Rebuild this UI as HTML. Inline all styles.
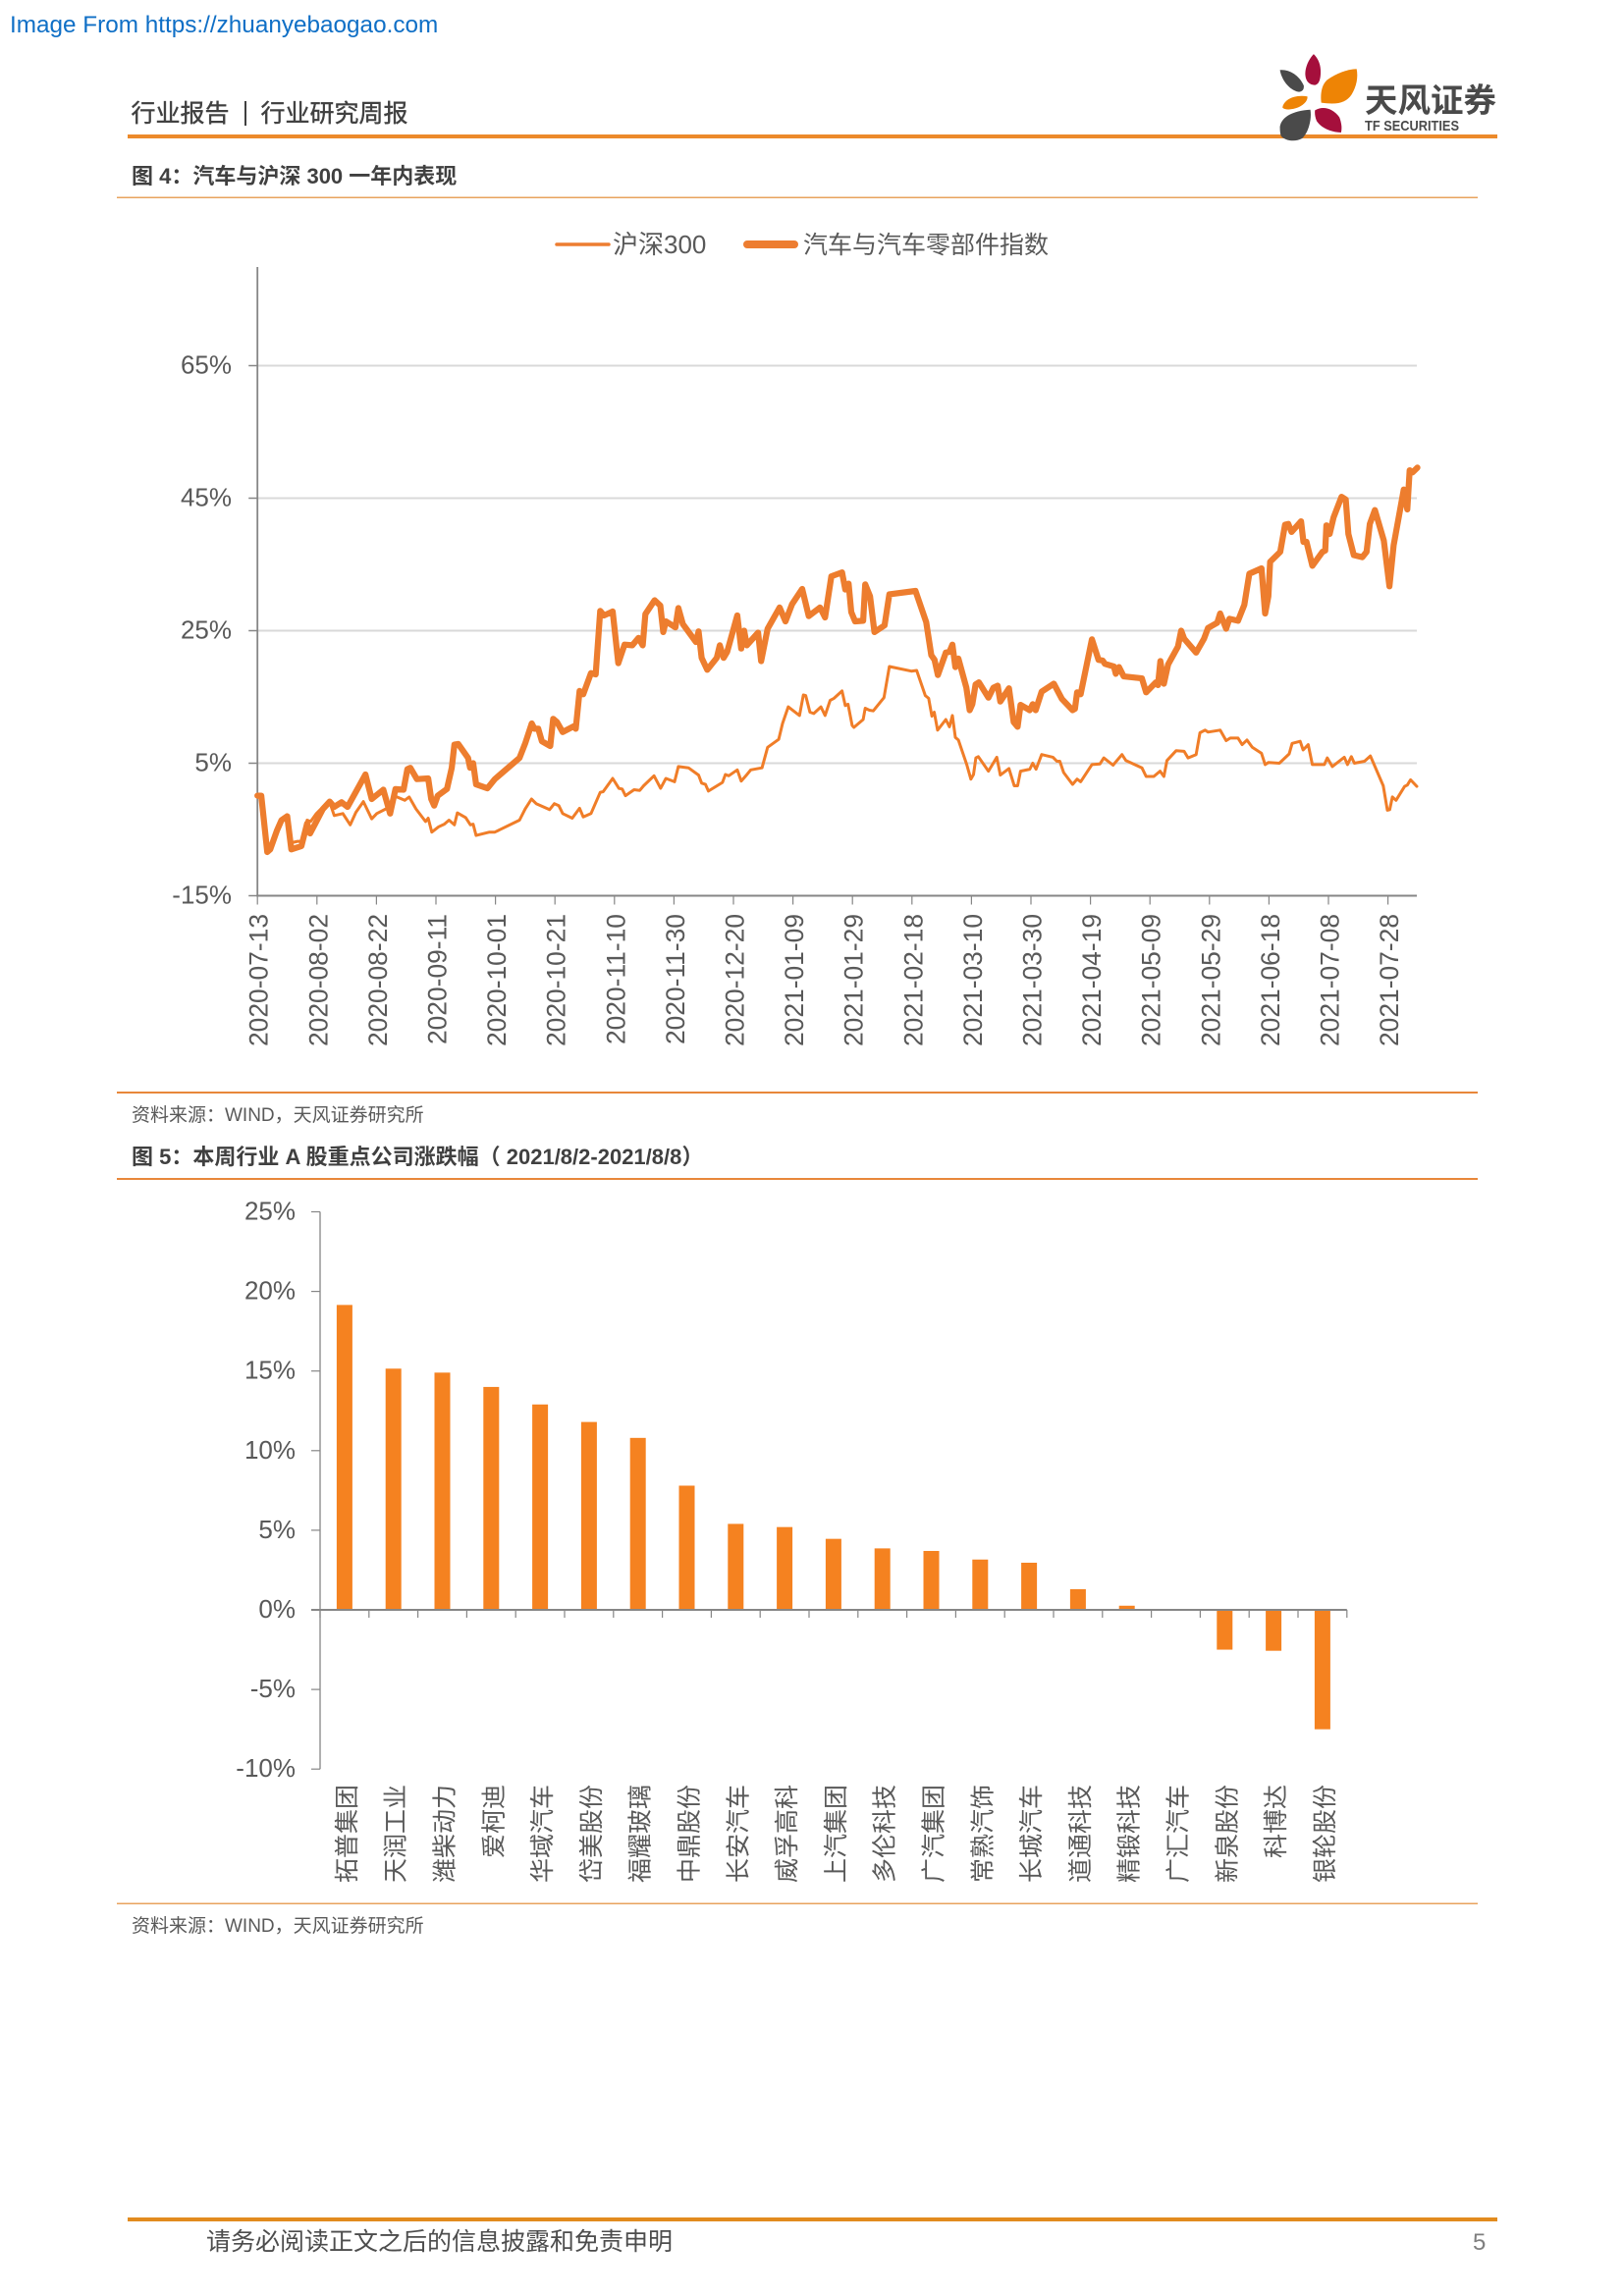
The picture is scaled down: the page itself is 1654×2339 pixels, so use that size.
<!DOCTYPE html>
<html lang="zh">
<head>
<meta charset="utf-8">
<title>行业研究周报</title>
<style>
html,body{margin:0;padding:0;background:#fff;}
svg{display:block;}
text{font-family:"Liberation Sans","Noto Sans CJK SC",sans-serif;}
</style>
</head>
<body>
<svg id="page" xmlns="http://www.w3.org/2000/svg" width="1654" height="2339" viewBox="0 0 1654 2339">
  <rect x="0" y="0" width="1654" height="2339" fill="#ffffff"/>
  <text x="10" y="33" font-size="24.3" fill="#0F6FC6">Image From https://zhuanyebaogao.com</text>

  <text x="133.5" y="124" font-size="25" stroke="#404040" stroke-width="0.4" fill="#404040">行业报告</text>
  <rect x="249" y="103" width="2" height="25" fill="#404040"/>
  <text x="265.5" y="124" font-size="25" stroke="#404040" stroke-width="0.4" fill="#404040">行业研究周报</text>
  <rect x="130" y="137" width="1395" height="4" fill="#EC8A2B"/>

  <g>
    <g transform="translate(1280,40) scale(0.3367)">
      <path d="M172 45C158 60 145 85 147 110C149 132 165 140 178 138C192 134 194 110 193 92C192 72 183 55 172 45Z" fill="#A50F3C"/>
      <path d="M195 192C192 165 196 138 213 123C240 103 275 91 302 90C307 115 302 142 287 167C270 192 245 199 195 192Z" fill="#EE8405"/>
      <path d="M70 93C95 90 127 106 142 140C144 154 135 160 125 159C98 152 76 125 70 93Z" fill="#4A4A4A"/>
      <path d="M78 207C80 186 110 166 153 173C156 190 130 210 100 212C90 213 82 211 78 207Z" fill="#EE8405"/>
      <path d="M70 265C73 238 105 216 162 213C167 240 157 282 137 300C115 312 85 307 73 292C70 282 70 272 70 265Z" fill="#4A4A4A"/>
      <path d="M176 215C200 200 232 210 250 236C257 255 258 270 255 282C225 282 193 267 181 247C176 235 175 225 176 215Z" fill="#A50F3C"/>
    </g>
    <text x="1390" y="114" font-size="33.5" font-weight="700" fill="#4A4A4A">天风证券</text>
    <text x="1390" y="133" font-size="14.6" font-weight="700" fill="#4A4A4A" textLength="96" lengthAdjust="spacingAndGlyphs">TF SECURITIES</text>
  </g>

  <text x="134" y="187" font-size="22" font-weight="700" fill="#404040">图 4：汽车与沪深 300 一年内表现</text>
  <rect x="119" y="200.5" width="1386" height="1.5" fill="#E8A35E"/>

  <g>
    <line x1="567" y1="249" x2="620" y2="249" stroke="#ED7D31" stroke-width="3.5" stroke-linecap="round"/>
    <text x="624" y="258" font-size="26" fill="#595959">沪深300</text>
    <line x1="761" y1="249" x2="809" y2="249" stroke="#ED7D31" stroke-width="8" stroke-linecap="round"/>
    <text x="818" y="258" font-size="25" fill="#595959">汽车与汽车零部件指数</text>
  </g>

  <g id="lineChart"></g>

  <rect x="119" y="1112" width="1386" height="2" fill="#E8873A"/>
  <text x="134" y="1142" font-size="19" fill="#595959">资料来源：WIND，天风证券研究所</text>

  <text x="134" y="1186" font-size="22" font-weight="700" fill="#404040">图 5：本周行业 A 股重点公司涨跌幅（ 2021/8/2-2021/8/8）</text>
  <rect x="119" y="1200" width="1386" height="2" fill="#E8873A"/>

  <g id="barChart"></g>

  <rect x="119" y="1938.5" width="1386" height="1.5" fill="#E8A35E"/>
  <text x="134" y="1968" font-size="19" fill="#595959">资料来源：WIND，天风证券研究所</text>

  <rect x="130" y="2259" width="1395" height="4" fill="#E28B1E"/>
  <text x="210" y="2292" font-size="25" fill="#4D4D4D">请务必阅读正文之后的信息披露和免责申明</text>
  <text x="1500" y="2292" font-size="24" fill="#7F7F7F">5</text>
</svg>

<script>
// Figure 4 data: calendar days since 2020-07-13 and cumulative return in percent.
const dateTickLabels = ["2020-07-13","2020-08-02","2020-08-22","2020-09-11","2020-10-01","2020-10-21","2020-11-10","2020-11-30","2020-12-20","2021-01-09","2021-01-29","2021-02-18","2021-03-10","2021-03-30","2021-04-19","2021-05-09","2021-05-29","2021-06-18","2021-07-08","2021-07-28"];
const dateTickDays = [0,20,40,60,80,100,120,140,160,180,200,220,240,260,280,300,320,340,360,380];
const lineYTicks = [-15,5,25,45,65];
const hs300Days = [0,1.3,3.3,4.3,6.6,8.1,10,11.4,13.5,15.2,16.7,17.9,19.8,22,24.3,25.8,28.7,31.2,33.1,35.6,38.4,40.1,44.5,46.4,49.5,51,53.3,56.5,57.4,58.6,60.9,62.8,64.4,66.2,67.2,70,71.6,72.5,73.5,78,79.8,88.1,90,92.1,93.7,98.2,99.8,101.3,102.6,105.8,108.3,109.5,112.1,115.2,116.2,119.4,121.5,122.6,123.7,126.6,128.5,129.8,133.3,135.5,137.3,140.2,141.5,144.9,148.3,149.3,150.6,151.6,156.3,157.3,158.4,161.3,162.6,164.2,165.8,169.6,171.5,175.2,176.5,178.4,182.2,183.5,184.3,185.7,187,189.4,190.8,192.5,193.8,196.5,197.6,198.5,199.9,200.5,203.6,204.3,205.7,207,210.6,212.4,219.8,221.6,224.5,225.6,226.7,227.5,228.6,231.4,232.6,233.6,234.6,235.6,238.4,239.8,240.7,241.5,242.3,245.7,248.5,249.7,252.6,254.4,255.5,256.5,259.6,260.6,261.7,263.6,267.4,268.7,269.7,271,274,275.5,276.7,280.5,283.2,284.5,287.6,290.6,291.9,297.3,298.7,301.3,303.4,304.7,305.7,308.8,311.5,312.8,315.5,316.8,318.5,319.5,323.6,325.6,327,329.6,331,332.6,334.4,337.5,338.7,339.8,343.5,346.8,347.8,350.5,351.5,353.2,354.6,358.6,359.6,361.3,365.3,366.4,367.7,368.7,372.1,374.1,378.4,379.8,380.6,381.5,382.7,385.6,386.5,387.6,389.7];
const hs300Pct = [0.1,0.1,-8.4,-7.8,-5.1,-3.6,-3,-7,-6.8,-6.8,-3.6,-3.8,-2.6,-1.6,-0.9,-2.9,-2.6,-4.3,-2.4,-0.8,-3.4,-2.6,-1.6,0,-0.6,-0.1,-1.9,-3.8,-3.3,-5.4,-4.6,-4.2,-3.6,-4.3,-2.5,-3.2,-4.3,-4.2,-5.9,-5.4,-5.4,-3.6,-1.9,-0.4,-1.1,-2,-1.1,-1.4,-2.6,-3.3,-1.8,-3.1,-2.6,0.6,0.7,2.7,1.2,1.1,0.1,1,0.9,1.6,3.1,1.2,2.7,2.2,4.5,4.3,3.2,2,1.8,0.8,2.1,3.3,3.1,4,2.3,3.1,4,4.3,7.4,8.6,11,13.5,12.2,15.3,15.2,12.7,12.5,13.5,12.2,14.5,14.8,15.9,13.7,13.9,10.7,10.4,11.6,13.3,13,12.9,14.9,19.6,18.9,19,15.2,14.8,12.1,12.7,10,11.6,10.5,12.2,8.9,8.5,4.8,2.6,3.3,5.8,6,3.8,5.9,3.2,4.2,1.6,1.6,3.8,4.1,5,4.1,6.3,5.9,5.3,5.3,3.6,1.8,2.6,2.2,4.8,4.9,5.8,4.7,6.3,5.4,4.3,3,3,3.8,3,5.4,6.9,6.8,5.8,6.3,9.6,10,9.7,10,8.4,8.8,8.8,7.8,8.5,7.4,6.5,4.8,5.1,5,6.4,8,8.3,7,7.8,4.8,4.8,5.8,4.5,5.9,4.8,6,5,5.3,6.1,1.6,-2.1,-2,-0.1,-0.6,1.5,1.7,2.5,1.5];
const sectorDays = [0,1.3,3.3,4.3,6.6,8.1,10,11.4,14.8,16.7,17.7,19.8,22,24.3,25.8,28.3,30.3,36.3,38.4,42.3,44.6,46.4,49.1,50.4,51.4,53.6,57.4,58.4,59.4,60.6,63.7,65.3,66.2,67.5,70.8,71.5,72.5,73.5,77.3,79.8,88.1,90,92.2,93.1,94.4,95.6,98.4,99.4,100.7,102.6,106.4,107,108.3,109.5,112.1,113.7,115.2,116.5,119.4,121.3,123.4,126,128.1,129.5,130.4,133.5,135.4,136.4,137.3,140.5,141.5,143,147.4,148.3,149.3,151.2,154.4,155.4,156.7,157.9,161.3,162.6,163.6,164.5,168.3,169.3,171.5,175.5,177.5,179.7,183.1,185.3,189.1,190.8,192.9,196.5,197.6,198.7,199.6,200.9,203.6,204.3,205.9,207.4,210.8,212.4,221.2,224.8,226.5,227.6,228.7,231.4,232.6,233.6,234.6,235.6,238.3,239.4,240.3,241.4,242.5,245.7,247.4,248.8,249.7,252.6,254.2,255.5,256.5,259.6,260.6,261.6,263.6,267.7,270.4,274,274.8,275.5,276.7,280.5,282.7,284.1,284.9,287.9,288.5,289.6,291.2,297.3,298.7,302,302.7,303.5,304.7,306.1,309.4,310.5,311.5,315.5,318.2,319.5,322.6,323.6,325.6,326.7,329.6,331.7,333.4,337.5,338.7,339.8,340.4,343.8,345.4,346.5,347.6,350.8,351.6,352.6,354.6,358,358.9,359.3,360.4,361.7,364.4,365.8,366.7,368.5,371.4,372.8,373.9,375.6,378.6,380.5,381.9,385.3,386.5,387.3,388.3,389.9];
const sectorPct = [0.1,0.1,-8.4,-8,-5.1,-3.6,-3,-8,-7.5,-4.1,-5.6,-3.8,-1.9,-0.8,-1.6,-0.9,-1.6,3.3,-0.4,1,-2.6,1.1,1,4.1,4.3,2.6,2.7,-0.4,-1.4,0.1,1.1,4.3,7.8,7.9,5.8,4.3,5,1.8,1.2,2.6,5.8,8,11,10.2,10.2,8.3,7.6,11.7,11.2,9.7,10.6,10.2,15.9,15.4,18.6,18.4,28,27.3,27.9,20.1,22.9,22.8,23.9,22.8,27.5,29.6,28.8,24.8,26.4,25.5,28.4,26,23.3,24.9,20.9,19.1,20.9,22.8,20.9,21.8,27.3,22.3,25,22.8,24.7,20.4,25.3,28.5,26.4,29,31.3,27.2,28.5,27,33.2,33.8,31.2,32.1,27.8,26.4,26.5,32,30.2,24.8,25.8,30.5,31,26.3,21.3,20.6,18.3,21.7,21.8,22.9,19.5,20.8,16.4,13,13.9,16.9,17.2,14.9,16.4,16.7,14.3,16.3,11.2,10.5,13.8,13,13.9,13,15.8,17,14.7,13,13.2,15.7,15.4,23.7,20.6,20.5,20,19.6,18.5,19.5,18.1,17.8,15.7,17.2,16.8,20.4,17,19.9,22.6,25,23.8,21.7,23.8,25.4,26.2,27.6,25.3,26.8,26.5,28.9,33.6,34.4,27.6,30.2,35.4,36.9,41,41.1,39.9,41.5,38.4,38.4,34.8,36.9,37.1,40.9,39.6,42.1,45.2,44.8,39.6,36.4,36.1,36.9,41.1,43.2,38.6,31.7,37.9,46.3,43.3,49.2,48.9,49.6];

// Figure 5 data: weekly change of key listed companies in percent.
const companyNames = ["拓普集团","天润工业","潍柴动力","爱柯迪","华域汽车","岱美股份","福耀玻璃","中鼎股份","长安汽车","威孚高科","上汽集团","多伦科技","广汽集团","常熟汽饰","长城汽车","道通科技","精锻科技","广汇汽车","新泉股份","科博达","银轮股份"];
const companyChange = [19.15,15.15,14.9,14.0,12.9,11.8,10.8,7.8,5.4,5.2,4.46,3.86,3.7,3.16,2.96,1.3,0.26,0,-2.5,-2.57,-7.5];
const barYTicks = [-10,-5,0,5,10,15,20,25];

const SVGNS = "http://www.w3.org/2000/svg";
function node(parent, tag, attrs) {
  const el = document.createElementNS(SVGNS, tag);
  for (const k in attrs) el.setAttribute(k, attrs[k]);
  parent.appendChild(el);
  return el;
}

/* ---------- Figure 4 line chart ---------- */
function xDay(d) { return 262.2 + d * 3.03; }
function yLine(v) { return 777.5 - (v - 5) * 6.75; }
function pathFrom(days, pct) {
  return days.map(function (d, i) {
    return (i ? "L" : "M") + xDay(d).toFixed(1) + " " + yLine(pct[i]).toFixed(1);
  }).join("");
}
const lineChart = document.getElementById("lineChart");
const LINE_LEFT = xDay(0), LINE_RIGHT = 1443, LINE_TOP = 272, LINE_BOTTOM = yLine(-15);

lineYTicks.forEach(function (v) {
  const y = yLine(v);
  if (v !== -15) {
    const grid = node(lineChart, "line", {x1: LINE_LEFT, y1: y, x2: LINE_RIGHT, y2: y, stroke: "#D9D9D9", "stroke-width": 2});
    
    
  }
  const tick = node(lineChart, "line", {x1: LINE_LEFT - 9, y1: y, x2: LINE_LEFT, y2: y, stroke: "#868686", "stroke-width": 1.5});
  
  
  const label = node(lineChart, "text", {x: 236, y: y + 8, "text-anchor": "end", "font-size": 26, fill: "#595959"});
  
  
  label.textContent = v + "%";
});

const lineYAxis = node(lineChart, "line", {x1: LINE_LEFT, y1: LINE_TOP, x2: LINE_LEFT, y2: LINE_BOTTOM, stroke: "#868686", "stroke-width": 1.8});


const lineXAxis = node(lineChart, "line", {x1: LINE_LEFT - 1, y1: LINE_BOTTOM, x2: LINE_RIGHT, y2: LINE_BOTTOM, stroke: "#868686", "stroke-width": 2});



dateTickLabels.forEach(function (t, i) {
  const x = xDay(dateTickDays[i]);
  const tick = node(lineChart, "line", {x1: x, y1: LINE_BOTTOM, x2: x, y2: LINE_BOTTOM + 9, stroke: "#868686", "stroke-width": 1.2});
  
  
  const label = node(lineChart, "text", {transform: "translate(" + (x + 10.5) + ",931) rotate(-90)", "text-anchor": "end", "font-size": 26.4, fill: "#595959"});
  
  
  label.textContent = t;
});

const hs300Line = node(lineChart, "path", {d: pathFrom(hs300Days, hs300Pct), fill: "none", stroke: "#F07D28", "stroke-width": 3, "stroke-linejoin": "round", "stroke-linecap": "round"});


const sectorLine = node(lineChart, "path", {d: pathFrom(sectorDays, sectorPct), fill: "none", stroke: "#ED7D2E", "stroke-width": 6.2, "stroke-linejoin": "round", "stroke-linecap": "round"});



/* ---------- Figure 5 bar chart ---------- */
const BAR_LEFT = 326, BAR_STEP = 49.8, BAR_WIDTH = 16;
function xCat(i) { return BAR_LEFT + BAR_STEP * (i + 0.5); }
function xCatEdge(i) { return BAR_LEFT + BAR_STEP * i; }
function yBar(v) { return 1640 - v * 16.22; }
const barChart = document.getElementById("barChart");

const barYAxis = node(barChart, "line", {x1: BAR_LEFT, y1: yBar(25), x2: BAR_LEFT, y2: yBar(-10), stroke: "#868686", "stroke-width": 1.3});



barYTicks.forEach(function (v) {
  const y = yBar(v);
  const tick = node(barChart, "line", {x1: BAR_LEFT - 9, y1: y, x2: BAR_LEFT, y2: y, stroke: "#868686", "stroke-width": 1.2});
  
  
  const label = node(barChart, "text", {x: 301, y: y + 8, "text-anchor": "end", "font-size": 26, fill: "#595959"});
  
  
  label.textContent = v + "%";
});

companyNames.forEach(function (name, i) {
  const v = companyChange[i];
  const top = yBar(Math.max(v, 0));
  const bottom = yBar(Math.min(v, 0));
  const bar = node(barChart, "rect", {x: xCat(i) - BAR_WIDTH / 2, y: top, width: BAR_WIDTH, height: bottom - top, fill: "#F58220"});
  
  
  const label = node(barChart, "text", {transform: "translate(" + (xCat(i) + 11) + ",1818) rotate(-90)", "text-anchor": "end", "font-size": 25, fill: "#595959"});
  
  
  label.textContent = name;
});

const barXAxis = node(barChart, "line", {x1: BAR_LEFT - 9, y1: yBar(0), x2: xCatEdge(companyNames.length), y2: yBar(0), stroke: "#868686", "stroke-width": 2});


for (let i = 0; i <= companyNames.length; i++) {
  const tick = node(barChart, "line", {x1: xCatEdge(i), y1: yBar(0), x2: xCatEdge(i), y2: yBar(0) + 8, stroke: "#868686", "stroke-width": 1.2});
  
  
}
</script>
</body>
</html>
